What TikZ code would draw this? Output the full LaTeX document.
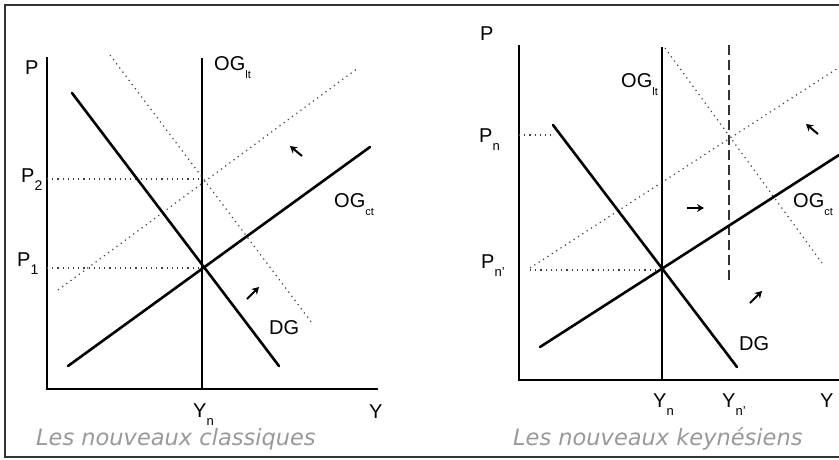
\documentclass[tikz,border=0pt]{standalone}
\usepackage{fontspec}
\setmainfont{Liberation Sans}
\newfontfamily\capfont{DejaVu Sans}
\usetikzlibrary{arrows.meta}
\newcommand{\lowsub}[2][12]{\raisebox{-0.42em}{\fontsize{#1}{#1}\selectfont #2}}

\begin{document}
\begin{tikzpicture}[x=1pt,y=-1pt,curve/.style={line width=2.6pt,line cap=round},axis/.style={line width=2pt},longrun/.style={line width=2.6pt},guide/.style={line width=1.2pt,black!75,dash pattern=on 1.2pt off 4pt},shiftline/.style={line width=1.2pt,black!80,dash pattern=on 10pt off 5pt},move/.style={line width=2pt,-{Stealth[length=7pt,width=8pt]}},lbl/.style={anchor=base west,inner sep=0pt,font=\fontsize{20}{24}\selectfont},caption/.style={anchor=base west,inner sep=0pt,text=black!40,font=\capfont\itshape\fontsize{22.5}{26}\selectfont}]
\useasboundingbox (0,0) rectangle (839,459);
\coordinate (fTR) at (839,5);
\coordinate (fTL) at (5,5);
\coordinate (fBL) at (5,457);
\coordinate (fBR) at (839,457);
\draw[line width=1.5pt,black!80] (fTR) -- (fTL) -- (fBL) -- (fBR);
\coordinate (PtopA) at (47,57);
\coordinate (OA) at (47,389);
\coordinate (YendA) at (378,389);
\coordinate (LtTopA) at (202,58);
\coordinate (LtBotA) at (202,389);
\coordinate (DGa1) at (72,93);
\coordinate (DGa2) at (279,366);
\coordinate (OGa1) at (68,366);
\coordinate (OGa2) at (370,147);
\coordinate (OGb1) at (58,290);
\coordinate (OGb2) at (358,68);
\coordinate (DGb1) at (110,55);
\coordinate (DGb2) at (312,323);
\coordinate (P2a) at (47,179);
\coordinate (P2b) at (202,179);
\coordinate (P1a) at (47,268);
\coordinate (P1b) at (202,268);
\draw[axis] (PtopA) -- (OA) -- (YendA);
\draw[longrun] (LtTopA) -- (LtBotA);
\draw[guide] (P2a) -- (P2b);
\draw[guide] (P1a) -- (P1b);
\draw[guide] (OGb1) -- (OGb2);
\draw[guide] (DGb1) -- (DGb2);
\draw[curve] (DGa1) -- (DGa2);
\draw[curve] (OGa1) -- (OGa2);
\coordinate (mA1) at (302,156);
\coordinate (mA2) at (290,146);
\coordinate (mB1) at (247,299);
\coordinate (mB2) at (259,287);
\draw[move] (mA1) -- (mA2);
\draw[move] (mB1) -- (mB2);
\node[lbl] (PA) at (25,74) {P};
\node[lbl] (P2) at (21,182) {P\lowsub[14]{2}};
\node[lbl] (P1) at (17,266) {P\lowsub[14]{1}};
\node[lbl] (LtA) at (214,70) {OG\lowsub[11]{lt}};
\node[lbl] (CtA) at (334,207) {OG\lowsub[11]{ct}};
\node[lbl] (DGlA) at (269,334) {DG};
\node[lbl] (YnA) at (193,417) {Y\lowsub[13]{n}};
\node[lbl] (YA) at (369,418) {Y};
\node[caption] (capA) at (36,445) {Les nouveaux classiques};
\coordinate (PtopB) at (519,45);
\coordinate (OB) at (519,380);
\coordinate (YendB) at (839,380);
\coordinate (LtTopB) at (662,47);
\coordinate (LtBotB) at (662,380);
\coordinate (DashTop) at (729,45);
\coordinate (DashBot) at (729,282);
\coordinate (DGc1) at (553,125);
\coordinate (DGc2) at (737,367);
\coordinate (OGc1) at (540,347);
\coordinate (OGc2) at (839,155);
\coordinate (OGd1) at (530,268);
\coordinate (OGd2) at (838,68);
\coordinate (DGd1) at (665,48);
\coordinate (DGd2) at (822,263);
\coordinate (Pna) at (519,135);
\coordinate (Pnb) at (553,135);
\coordinate (Pnpa) at (530,270);
\coordinate (Pnpb) at (662,270);
\draw[axis] (PtopB) -- (OB) -- (YendB);
\draw[longrun] (LtTopB) -- (LtBotB);
\draw[shiftline] (DashTop) -- (DashBot);
\draw[guide] (Pna) -- (Pnb);
\draw[guide] (Pnpa) -- (Pnpb);
\draw[guide] (OGd1) -- (OGd2);
\draw[guide] (DGd1) -- (DGd2);
\draw[curve] (DGc1) -- (DGc2);
\draw[curve] (OGc1) -- (OGc2);
\coordinate (mC1) at (687,208);
\coordinate (mC2) at (704,208);
\coordinate (mD1) at (818,134);
\coordinate (mD2) at (806,124);
\coordinate (mE1) at (750,303);
\coordinate (mE2) at (762,291);
\draw[move] (mC1) -- (mC2);
\draw[move] (mD1) -- (mD2);
\draw[move] (mE1) -- (mE2);
\node[lbl] (PB) at (480,40) {P};
\node[lbl] (Pn) at (479,142) {P\lowsub[13]{n}};
\node[lbl] (Pnp) at (481,268) {P\lowsub[13]{n'}};
\node[lbl] (LtB) at (621,87) {OG\lowsub[11]{lt}};
\node[lbl] (CtB) at (793,207) {OG\lowsub[11]{ct}};
\node[lbl] (DGlB) at (739,350) {DG};
\node[lbl] (YnB) at (653,407) {Y\lowsub[13]{n}};
\node[lbl] (YnpB) at (722,407) {Y\lowsub[13]{n'}};
\node[lbl] (YB) at (820,407) {Y};
\node[caption] (capB) at (513,445) {Les nouveaux keynésiens};
\end{tikzpicture}
\end{document}
